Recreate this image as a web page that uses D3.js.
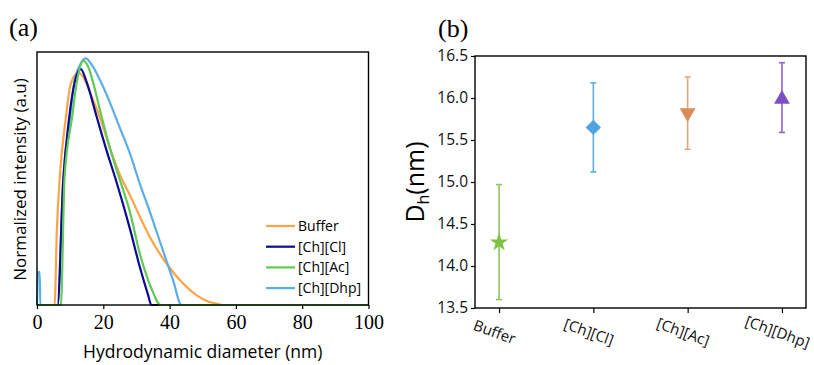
<!DOCTYPE html>
<html>
<head>
<meta charset="utf-8">
<script src="https://cdn.jsdelivr.net/npm/d3@7"></script>
<style>
  body { margin: 0; background: #fff; }
  svg { display: block; }
</style>
</head>
<body>
<svg id="chart" width="814" height="365"></svg>
<script>
// (a) size distributions: [hydrodynamic diameter (nm), normalized intensity]
const bufferCurve = [[0, 0], [5.3, 0], [6.0, 0.3], [6.9, 0.51], [8.7, 0.74], [10.2, 0.875], [12.4, 0.918],
  [14, 0.9], [16, 0.84], [19, 0.74], [22, 0.62], [25.5, 0.5], [28, 0.435], [31, 0.35], [34, 0.27],
  [39, 0.165], [44, 0.086], [48, 0.04], [51.6, 0.014], [55, 0.003], [56, 0], [100, 0]];
const clCurve = [[0, 0], [6.2, 0], [7.9, 0.49], [9.7, 0.74], [11.2, 0.87], [13.2, 0.932], [15, 0.88],
  [18, 0.744], [21, 0.61], [23.8, 0.494], [28, 0.303], [31, 0.151], [33.5, 0.04], [34.5, 0], [100, 0]];
const acCurve = [[0, 0], [7.2, 0], [8.3, 0.5], [10.6, 0.744], [12, 0.88], [14, 0.965], [15.5, 0.94],
  [17, 0.876], [19.5, 0.744], [22, 0.62], [25, 0.494], [28, 0.369], [31, 0.204], [34.5, 0.066],
  [37.3, 0], [100, 0]];
const dhpCurve = [[0, 0], [0.2, 0.13], [0.8, 0.13], [1.0, 0], [6.2, 0], [7.9, 0.49], [10, 0.744],
  [11.2, 0.876], [13, 0.95], [14.7, 0.975], [16.5, 0.95], [19, 0.889], [22, 0.8], [25, 0.7],
  [28, 0.6], [31, 0.48], [34, 0.37], [38, 0.215], [41, 0.1], [43.6, 0], [100, 0]];
const seriesNames = ['Buffer', '[Ch][Cl]', '[Ch][Ac]', '[Ch][Dhp]'];
const curveColors = ['#ffa345', '#0a0a96', '#62c952', '#5aaee6'];
const diameterTicks = [0, 20, 40, 60, 80, 100];

// (b) mean hydrodynamic diameter with error range
const dhMean = [14.28, 15.65, 15.80, 16.01];
const dhLow = [13.60, 15.12, 15.39, 15.59];
const dhHigh = [14.97, 16.18, 16.25, 16.42];
const dhTicks = [13.5, 14.0, 14.5, 15.0, 15.5, 16.0, 16.5];
const markerColors = ['#7dc243', '#4fa3de', '#db8a5c', '#7c4fc8'];
const barColors = ['#8cc85a', '#5daee3', '#e8a381', '#8e62d4'];

const svg = d3.select('#chart');
const sans = "'Open Sans', sans-serif";
const serif = "'Liberation Serif', 'Times New Roman', serif";

// ---------- panel (a) ----------
const a = { left: 37, top: 52, right: 368.5, bottom: 305 };
const xA = d3.scaleLinear().domain([0, 100]).range([a.left, a.right]);
const yA = d3.scaleLinear().domain([0, 1]).range([a.bottom, a.top]);

svg.append('text').attr('x', 9).attr('y', 36)
  .attr('font-family', serif).attr('font-size', 26).text('(a)');

const line = d3.line().x(d => xA(d[0])).y(d => yA(d[1])).curve(d3.curveMonotoneX);
const curves = [bufferCurve, clCurve, acCurve, dhpCurve];
// draw order so that [Ch][Ac] sits on top of the baseline
[0, 3, 1, 2].forEach(i => {
  svg.append('path').datum(curves[i])
    .attr('d', line).attr('fill', 'none')
    .attr('stroke', curveColors[i]).attr('stroke-width', 2.2)
    .attr('stroke-linejoin', 'round');
});

svg.append('rect').attr('x', a.left).attr('y', a.top)
  .attr('width', a.right - a.left).attr('height', a.bottom - a.top)
  .attr('fill', 'none').attr('stroke', '#000').attr('stroke-width', 1.4);

const axA = svg.append('g').attr('transform', `translate(0,${a.bottom})`)
  .call(d3.axisBottom(xA).tickValues(diameterTicks).tickSize(4).tickPadding(6));
axA.select('.domain').remove();
axA.selectAll('line').attr('stroke-width', 1.2);
axA.selectAll('text').attr('font-family', serif).attr('font-size', 20).attr('fill', '#000');

svg.append('text').attr('x', (a.left + a.right) / 2).attr('y', 358)
  .attr('text-anchor', 'middle').attr('font-family', sans).attr('font-size', 17.5)
  .text('Hydrodynamic diameter (nm)');
svg.append('text').attr('transform', `translate(26,${(a.top + a.bottom) / 2 + 1}) rotate(-90)`)
  .attr('text-anchor', 'middle').attr('font-family', sans).attr('font-size', 17)
  .text('Normalized intensity (a.u)');

const legend = svg.append('g').attr('transform', 'translate(266,226)');
seriesNames.forEach((name, i) => {
  const row = legend.append('g').attr('transform', `translate(0,${i * 20.7})`);
  row.append('line').attr('x1', 0).attr('x2', 29).attr('stroke', curveColors[i]).attr('stroke-width', 2.2);
  row.append('text').attr('x', 32).attr('dy', '0.35em')
    .attr('font-family', sans).attr('font-size', 14).text(name);
});

// ---------- panel (b) ----------
const b = { left: 475, top: 56, right: 806, bottom: 308 };
const xB = d3.scalePoint().domain(seriesNames).range([b.left, b.right]).padding(0.255);
const yB = d3.scaleLinear().domain([13.5, 16.5]).range([b.bottom, b.top]);

svg.append('text').attr('x', 438).attr('y', 37)
  .attr('font-family', serif).attr('font-size', 26).text('(b)');

svg.append('rect').attr('x', b.left).attr('y', b.top)
  .attr('width', b.right - b.left).attr('height', b.bottom - b.top)
  .attr('fill', 'none').attr('stroke', '#000').attr('stroke-width', 1.4);

const ayB = svg.append('g').attr('transform', `translate(${b.left},0)`)
  .call(d3.axisLeft(yB).tickValues(dhTicks).tickFormat(d3.format('.1f')).tickSize(4).tickPadding(3));
ayB.select('.domain').remove();
ayB.selectAll('line').attr('stroke-width', 1.2);
ayB.selectAll('text').attr('font-family', sans).attr('font-size', 15.5).attr('fill', '#111');

const axB = svg.append('g').attr('transform', `translate(0,${b.bottom})`)
  .call(d3.axisBottom(xB).tickSize(5));
axB.select('.domain').remove();
axB.selectAll('line').attr('stroke-width', 1.2);
axB.selectAll('text')
  .attr('y', 0).attr('dy', '0.35em')
  .attr('transform', 'translate(-5,24) rotate(20)')
  .attr('text-anchor', 'middle')
  .attr('font-family', sans).attr('font-size', 15).attr('fill', '#111');

const dLabel = svg.append('text')
  .attr('transform', `translate(424,${(b.top + b.bottom) / 2}) rotate(-90)`)
  .attr('text-anchor', 'middle').attr('font-family', sans).attr('font-size', 25);
dLabel.append('tspan').text('D');
dLabel.append('tspan').attr('font-size', 16).attr('dy', 5).text('h');
dLabel.append('tspan').attr('dy', -5).text('(nm)');

const shapes = [
  { type: d3.symbolStar, size: 105, rot: 0 },
  { type: d3.symbolSquare, size: 118, rot: 45 },
  { type: d3.symbolTriangle, size: 108, rot: 180 },
  { type: d3.symbolTriangle, size: 108, rot: 0 }
];

seriesNames.forEach((name, i) => {
  const cx = xB(name);
  const g = svg.append('g');
  g.append('line').attr('x1', cx).attr('x2', cx)
    .attr('y1', yB(dhLow[i])).attr('y2', yB(dhHigh[i]))
    .attr('stroke', barColors[i]).attr('stroke-width', 1.6);
  [dhLow[i], dhHigh[i]].forEach(v => {
    g.append('line').attr('x1', cx - 3).attr('x2', cx + 3)
      .attr('y1', yB(v)).attr('y2', yB(v))
      .attr('stroke', barColors[i]).attr('stroke-width', 1.6);
  });
  const s = shapes[i];
  const cy = yB(dhMean[i]) + (s.type === d3.symbolTriangle ? (s.rot ? -2 : 2) : 0);
  g.append('path')
    .attr('d', d3.symbol().type(s.type).size(s.size)())
    .attr('transform', `translate(${cx},${cy}) rotate(${s.rot})`)
    .attr('fill', markerColors[i]);
});
</script>
</body>
</html>
